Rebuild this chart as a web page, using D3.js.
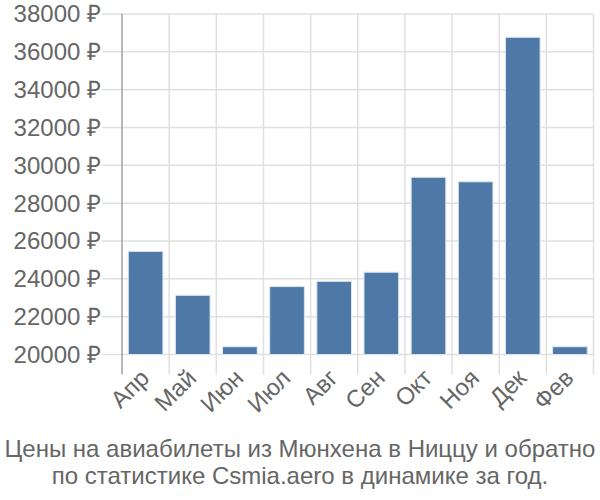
<!DOCTYPE html>
<html>
<head>
<meta charset="utf-8">
<script src="https://cdn.jsdelivr.net/npm/d3@7"></script>
<style>
  html, body { margin: 0; padding: 0; background: #fff; }
  svg { display: block; font-family: "Liberation Sans", Arial, sans-serif; }
</style>
</head>
<body>
<svg id="chart" width="600" height="500"></svg>
<script>
const months = ["Апр", "Май", "Июн", "Июл", "Авг", "Сен", "Окт", "Ноя", "Дек", "Фев"];
const prices = [25450, 23130, 20410, 23590, 23870, 24350, 29370, 29130, 36770, 20410];
const yTicks = [20000, 22000, 24000, 26000, 28000, 30000, 32000, 34000, 36000, 38000];
const titleLines = [
  "Цены на авиабилеты из Мюнхена в Ниццу и обратно",
  "по статистике Csmia.aero в динамике за год."
];

(function () {
const svg = d3.select("#chart");
const pLeft = 122, pRight = 593.5, pTop = 14, pBottom = 354.5;
const pad = 0.265;
const fs = 24;

const x = d3.scaleBand().domain(months).range([pLeft, pRight])
  .paddingInner(pad).paddingOuter(pad / 2);
const y = d3.scaleLinear().domain([20000, 38000]).range([pBottom, pTop]);
const step = x.step();

const grid = svg.append("g");
grid.selectAll("line.h").data(yTicks).enter().append("line")
  .attr("x1", pLeft - 20).attr("x2", pRight)
  .attr("y1", d => y(d)).attr("y2", d => y(d))
  .attr("stroke", "#e0e0e0").attr("stroke-width", 1.5);
const bounds = months.map(m => x(m) - step * pad / 2).concat([pRight]);
grid.selectAll("line.v").data(bounds.slice(1)).enter().append("line")
  .attr("x1", d => d).attr("x2", d => d)
  .attr("y1", pTop).attr("y2", pBottom + 20)
  .attr("stroke", "#e0e0e0").attr("stroke-width", 1.5);

svg.append("line")
  .attr("x1", pLeft).attr("x2", pLeft)
  .attr("y1", pTop).attr("y2", pBottom + 20)
  .attr("stroke", "#a0a0a0").attr("stroke-width", 1.5);

svg.append("g").selectAll("rect").data(months).enter().append("rect")
  .attr("x", d => x(d))
  .attr("width", x.bandwidth())
  .attr("y", (d, i) => y(prices[i]))
  .attr("height", (d, i) => y(20000) - y(prices[i]))
  .attr("fill", "#4e78a6")
  .attr("stroke", "#dce6f1").attr("stroke-width", 1);

svg.append("g").selectAll("text").data(yTicks).enter().append("text")
  .attr("x", 101).attr("y", d => y(d))
  .attr("dy", "0.35em")
  .attr("text-anchor", "end")
  .attr("font-size", fs)
  .attr("fill", "#666")
  .text(d => d + " ₽");

svg.append("g").selectAll("text").data(months).enter().append("text")
  .attr("transform", d => `translate(${x(d) + x.bandwidth() / 2 + 5},${pBottom + 25}) rotate(-45)`)
  .attr("text-anchor", "end")
  .attr("font-size", fs)
  .attr("fill", "#666")
  .text(d => d);

svg.append("g").selectAll("text").data(titleLines).enter().append("text")
  .attr("x", 300).attr("y", (d, i) => 457 + i * 27)
  .attr("text-anchor", "middle")
  .attr("font-size", fs)
  .attr("fill", "#666")
  .text(d => d);
})();
</script>
</body>
</html>
